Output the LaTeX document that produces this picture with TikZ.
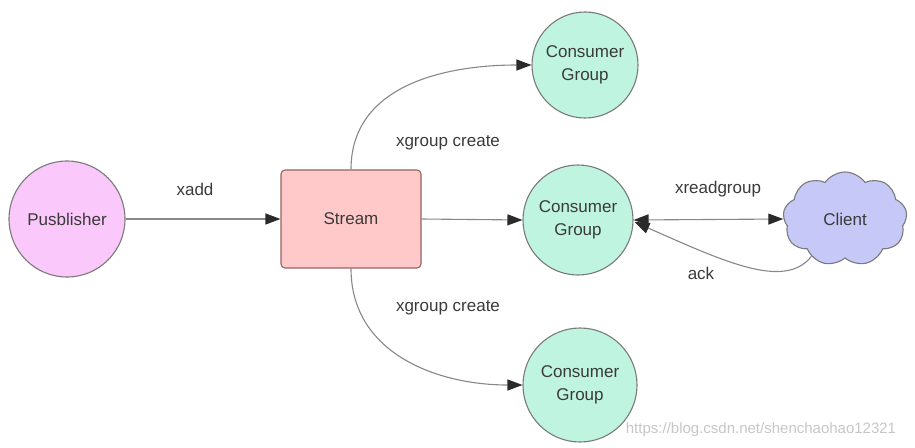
\documentclass[tikz,border=0pt]{standalone}
\usepackage{fontspec}
\setmainfont{Liberation Sans}
\usetikzlibrary{arrows.meta,calc,shapes.symbols}

\definecolor{pubfill}{HTML}{FAC8FA}
\definecolor{streamfill}{HTML}{FFC9C9}
\definecolor{groupfill}{HTML}{BFF5E0}
\definecolor{clientfill}{HTML}{C6C8F8}
\definecolor{edgegray}{HTML}{7A7A7A}
\definecolor{textgray}{HTML}{3A3A3A}
\definecolor{tipgray}{HTML}{2A2A2A}

\begin{document}
\begin{tikzpicture}[x=1pt, y=-1pt,
    >={Triangle[length=15pt,width=11pt,color=tipgray]},
    every node/.style={text=textgray, font=\fontsize{17}{23}\selectfont},
    group/.style={circle, draw=edgegray, line width=1.1pt, fill=groupfill,
        minimum size=110pt, inner sep=0pt, align=center},
    link/.style={draw=edgegray!90, line width=1.1pt}]
    \useasboundingbox (0,0) rectangle (915,447);

    \node[circle, draw=edgegray, line width=1.1pt, fill=pubfill, minimum size=116pt,
        inner sep=0pt] (pub) at (67,219) {Pusblisher};
    \node[draw=edgegray!80!red, line width=1.1pt, fill=streamfill, rounded corners=4pt,
        minimum width=140pt, minimum height=98pt] (stream) at (351,219) {Stream};
    \node[group, minimum size=106pt] (cg1) at (585,65) {Consumer\\Group};
    \node[group] (cg2) at (578,220) {Consumer\\Group};
    \node[group, minimum size=114pt] (cg3) at (580,385) {Consumer\\Group};
    \node[cloud, cloud puffs=9, cloud puff arc=110, aspect=1.35, draw=edgegray,
        line width=1.1pt, fill=clientfill, minimum width=124pt, minimum height=94pt,
        inner sep=0pt] (client) at (845,219) {Client};

    \coordinate (ackin) at ($(cg2.east)+(1,2)$);

    \draw[link, ->] (pub.east) -- (stream.west);
    \draw[link, ->] (stream.east) -- (cg2.west);
    \draw[link, ->] (stream.north) .. controls +(0,-85) and +(-85,0) .. (cg1.west);
    \draw[link, ->] (stream.south) .. controls +(0,85) and +(-85,0) .. (cg3.west);
    \draw[link, <->] (cg2.east) -- (client.west);
    \draw[link, ->] (client.228) .. controls (785,290) and (725,262) .. (ackin);

    \node (xadd) at (195,189) {xadd};
    \node (create1) at (448,143) {xgroup create};
    \node (create2) at (448,308) {xgroup create};
    \node (xread) at (718,189) {xreadgroup};
    \node (ack) at (701,273) {ack};
    \node[text=gray!45, font=\fontsize{15}{17}\selectfont] (mark) at (761,430)
        {https://blog.csdn.net/shenchaohao12321};
\end{tikzpicture}
\end{document}
